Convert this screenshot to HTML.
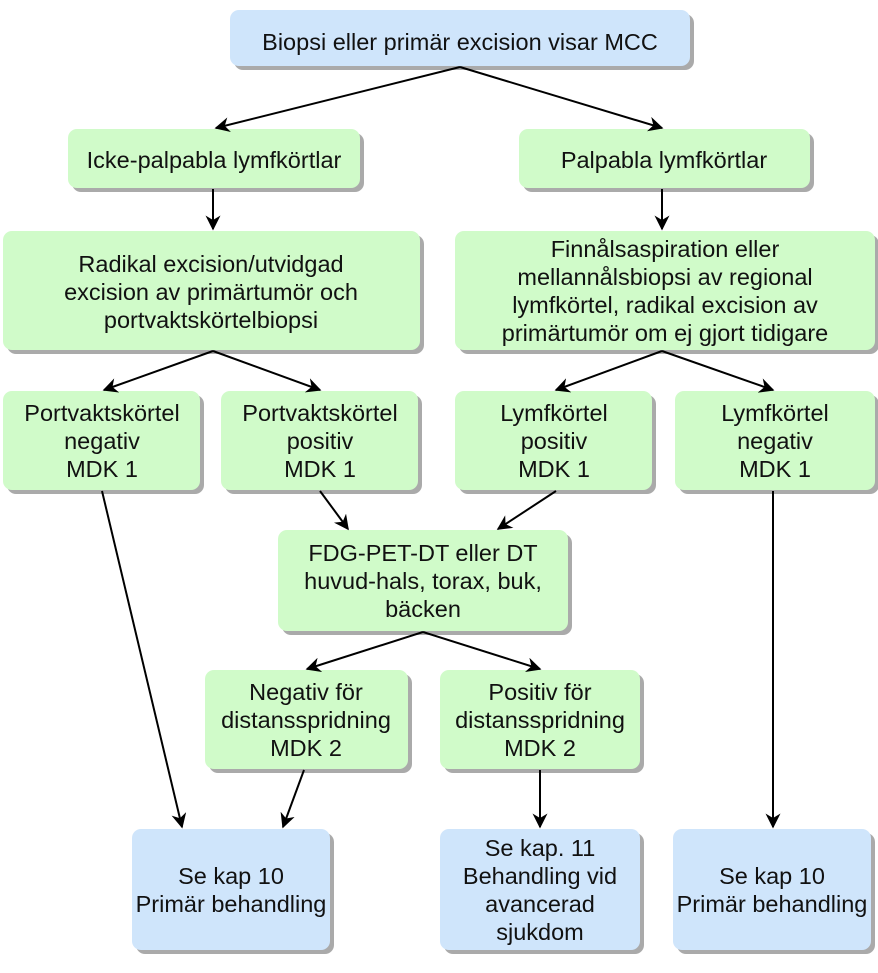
<!DOCTYPE html>
<html><head><meta charset="utf-8"><style>
html,body{margin:0;padding:0;background:#fff;}
svg text{font-family:"Liberation Sans",sans-serif;font-size:23.5px;fill:#111;text-anchor:middle;}
</style></head><body>
<svg width="878" height="968" xmlns="http://www.w3.org/2000/svg">
<defs>
<marker id="a" viewBox="0 0 10 10" refX="9" refY="5" markerWidth="15" markerHeight="15" orient="auto" markerUnits="userSpaceOnUse"><path d="M0,0 L10,5 L0,10 L3,5 z" fill="#000"/></marker>
</defs>
<g fill="#aaa">
<rect x="234" y="14" width="460" height="56" rx="9"/>
<rect x="72" y="133" width="292" height="59" rx="9"/>
<rect x="523" y="133" width="291" height="59" rx="9"/>
<rect x="7" y="235" width="417" height="119" rx="9"/>
<rect x="459" y="235" width="420" height="119" rx="9"/>
<rect x="7" y="395" width="197" height="99" rx="9"/>
<rect x="225" y="395" width="197" height="99" rx="9"/>
<rect x="459" y="395" width="197" height="99" rx="9"/>
<rect x="679" y="395" width="200" height="99" rx="9"/>
<rect x="282" y="534" width="290" height="101" rx="9"/>
<rect x="209" y="674" width="203" height="99" rx="9"/>
<rect x="444" y="674" width="200" height="99" rx="9"/>
<rect x="136" y="833" width="198" height="121" rx="9"/>
<rect x="444" y="833" width="200" height="121" rx="9"/>
<rect x="677" y="833" width="198" height="121" rx="9"/>
</g>
<g fill="#cfe5fb">
<rect x="230" y="10" width="460" height="56" rx="9"/>
<rect x="132" y="829" width="198" height="121" rx="9"/>
<rect x="440" y="829" width="200" height="121" rx="9"/>
<rect x="673" y="829" width="198" height="121" rx="9"/>
</g>
<g fill="#d0fbc9">
<rect x="68" y="129" width="292" height="59" rx="9"/>
<rect x="519" y="129" width="291" height="59" rx="9"/>
<rect x="3" y="231" width="417" height="119" rx="9"/>
<rect x="455" y="231" width="420" height="119" rx="9"/>
<rect x="3" y="391" width="197" height="99" rx="9"/>
<rect x="221" y="391" width="197" height="99" rx="9"/>
<rect x="455" y="391" width="197" height="99" rx="9"/>
<rect x="675" y="391" width="200" height="99" rx="9"/>
<rect x="278" y="530" width="290" height="101" rx="9"/>
<rect x="205" y="670" width="203" height="99" rx="9"/>
<rect x="440" y="670" width="200" height="99" rx="9"/>
</g>
<g stroke="#000" stroke-width="2" fill="none" marker-end="url(#a)">
<line x1="460" y1="67" x2="216" y2="128"/>
<line x1="460" y1="67" x2="662" y2="128"/>
<line x1="213" y1="189" x2="213" y2="229"/>
<line x1="662" y1="189" x2="662" y2="229"/>
<line x1="213" y1="351" x2="104" y2="390"/>
<line x1="213" y1="351" x2="320" y2="390"/>
<line x1="662" y1="351" x2="556" y2="390"/>
<line x1="662" y1="351" x2="773" y2="390"/>
<line x1="320" y1="491" x2="348" y2="529"/>
<line x1="556" y1="491" x2="498" y2="529"/>
<line x1="102" y1="491" x2="182" y2="827"/>
<line x1="423" y1="632" x2="307" y2="669"/>
<line x1="423" y1="632" x2="540" y2="669"/>
<line x1="304" y1="770" x2="283" y2="827"/>
<line x1="540" y1="770" x2="540" y2="827"/>
<line x1="773" y1="491" x2="773" y2="827"/>
</g>
<text x="460" y="50">Biopsi eller primär excision visar MCC</text>
<text x="214" y="168">Icke-palpabla lymfkörtlar</text>
<text x="664" y="168">Palpabla lymfkörtlar</text>
<text x="211" y="272">Radikal excision/utvidgad</text>
<text x="211" y="300">excision av primärtumör och</text>
<text x="211" y="328">portvaktskörtelbiopsi</text>
<text x="665" y="257">Finnålsaspiration eller</text>
<text x="665" y="285">mellannålsbiopsi av regional</text>
<text x="665" y="313">lymfkörtel, radikal excision av</text>
<text x="665" y="341">primärtumör om ej gjort tidigare</text>
<text x="102" y="421">Portvaktskörtel</text>
<text x="102" y="449">negativ</text>
<text x="102" y="477">MDK 1</text>
<text x="320" y="421">Portvaktskörtel</text>
<text x="320" y="449">positiv</text>
<text x="320" y="477">MDK 1</text>
<text x="554" y="421">Lymfkörtel</text>
<text x="554" y="449">positiv</text>
<text x="554" y="477">MDK 1</text>
<text x="775" y="421">Lymfkörtel</text>
<text x="775" y="449">negativ</text>
<text x="775" y="477">MDK 1</text>
<text x="423" y="561">FDG-PET-DT eller DT</text>
<text x="423" y="589">huvud-hals, torax, buk,</text>
<text x="423" y="617">bäcken</text>
<text x="306" y="700">Negativ för</text>
<text x="306" y="728">distansspridning</text>
<text x="306" y="756">MDK 2</text>
<text x="540" y="700">Positiv för</text>
<text x="540" y="728">distansspridning</text>
<text x="540" y="756">MDK 2</text>
<text x="231" y="884">Se kap 10</text>
<text x="231" y="912">Primär behandling</text>
<text x="540" y="856">Se kap. 11</text>
<text x="540" y="884">Behandling vid</text>
<text x="540" y="912">avancerad</text>
<text x="540" y="940">sjukdom</text>
<text x="772" y="884">Se kap 10</text>
<text x="772" y="912">Primär behandling</text>
</svg>
</body></html>
